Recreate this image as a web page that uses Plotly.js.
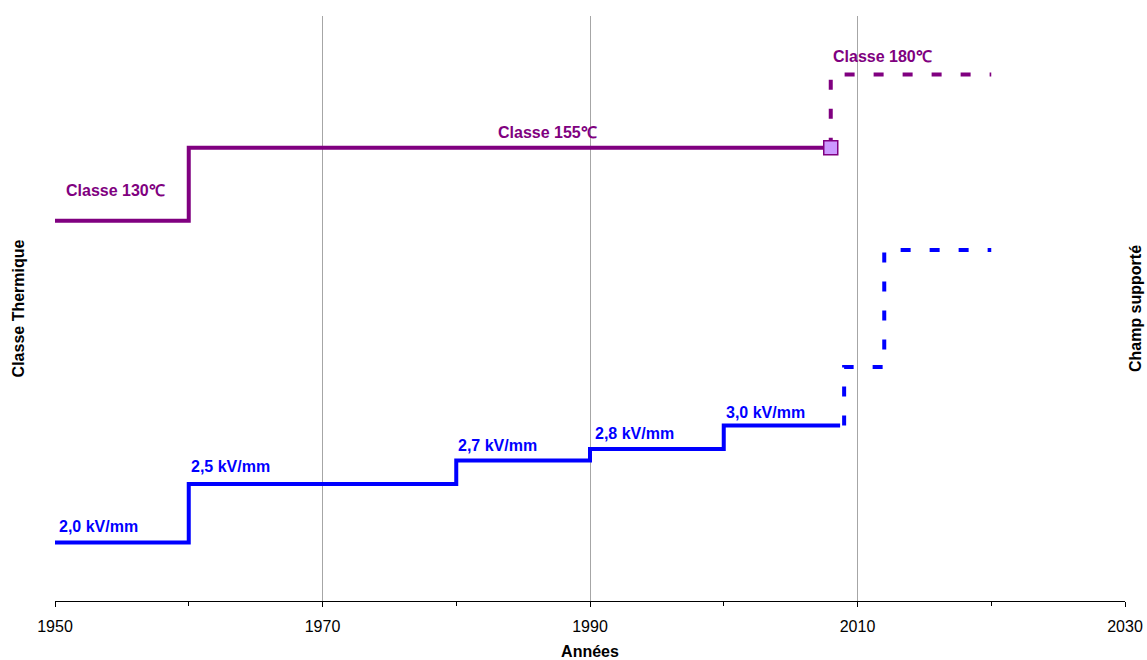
<!DOCTYPE html>
<html>
<head>
<meta charset="utf-8">
<script src="https://cdn.plot.ly/plotly-3.0.1.min.js"></script>
<style>html,body{margin:0;padding:0;background:#fff;}#chart{width:1147px;height:660px;}</style>
</head>
<body>
<div id="chart"></div>
<script>
// Thermal class (left axis)
const classYears = [1950, 1960, 2008];
const classValues = [130, 155, 155];
const classFutureYears = [2008, 2020];
const classFutureValues = [155, 180];
const classLabels = ["Classe 130℃", "Classe 155℃", "Classe 180℃"];

// Electric field withstood (right axis)
const fieldYears = [1950, 1960, 1980, 1990, 2000, 2008.7];
const fieldValues = [2.0, 2.5, 2.7, 2.8, 3.0, 3.0];
const fieldFutureYears = [2009, 2012, 2020];
const fieldFutureValues = [3.0, 3.5, 4.5];
const fieldLabels = ["2,0 kV/mm", "2,5 kV/mm", "2,7 kV/mm", "2,8 kV/mm", "3,0 kV/mm"];

const xTickYears = [1950, 1970, 1990, 2010, 2030];

const PURPLE = "#800080";
const BLUE = "#0000FF";
const FONT = "Arial, 'Liberation Sans', sans-serif";

const traces = [
  {x: classYears, y: classValues, type: "scatter", mode: "lines", line: {color: PURPLE, width: 4, shape: "hv"}, yaxis: "y", hoverinfo: "skip"},
  {x: classFutureYears, y: classFutureValues, type: "scatter", mode: "lines", line: {color: PURPLE, width: 4, shape: "vh", dash: "10px,19px"}, yaxis: "y", hoverinfo: "skip"},
  {x: [classYears[classYears.length - 1]], y: [classValues[classValues.length - 1]], type: "scatter", mode: "markers", marker: {symbol: "square", size: 14, color: "#CC99FF", line: {color: PURPLE, width: 1.5}}, yaxis: "y", hoverinfo: "skip"},
  {x: fieldYears, y: fieldValues, type: "scatter", mode: "lines", line: {color: BLUE, width: 4, shape: "hv"}, yaxis: "y2", hoverinfo: "skip"},
  {x: fieldFutureYears, y: fieldFutureValues, type: "scatter", mode: "lines", line: {color: BLUE, width: 4, shape: "vh", dash: "10px,19px"}, yaxis: "y2", hoverinfo: "skip"}
];

const annFont = (c) => ({family: FONT, size: 16, color: c});
const annotations = [];
// thermal class labels
annotations.push({x: classYears[0], y: classValues[0], xref: "x", yref: "y", text: "<b>" + classLabels[0] + "</b>", showarrow: false, xanchor: "left", yanchor: "middle", xshift: 9, yshift: 30, font: annFont(PURPLE)});
annotations.push({x: 1983, y: classValues[1], xref: "x", yref: "y", text: "<b>" + classLabels[1] + "</b>", showarrow: false, xanchor: "left", yanchor: "middle", yshift: 15, font: annFont(PURPLE)});
annotations.push({x: classFutureYears[0], y: classFutureValues[1], xref: "x", yref: "y", text: "<b>" + classLabels[2] + "</b>", showarrow: false, xanchor: "left", yanchor: "middle", yshift: 18, font: annFont(PURPLE)});
// field labels
const fieldShifts = [[2, 16], [0, 18], [0, 15], [3, 15], [0, 13]];
for (let i = 0; i < fieldLabels.length; i++) {
  annotations.push({x: fieldYears[i], y: fieldValues[i], xref: "x", yref: "y2", text: "<b>" + fieldLabels[i] + "</b>", showarrow: false, xanchor: "left", yanchor: "middle", xshift: fieldShifts[i][0], yshift: fieldShifts[i][1], font: annFont(BLUE)});
}

const layout = {
  width: 1147, height: 660,
  margin: {l: 55, r: 22, t: 16, b: 59},
  paper_bgcolor: "#fff", plot_bgcolor: "#fff",
  showlegend: false,
  font: {family: FONT, size: 16, color: "#000"},
  xaxis: {
    range: [1950, 2030], tickvals: xTickYears, ticktext: xTickYears.map(String),
    showgrid: true, gridcolor: "#a6a6a6", gridwidth: 1,
    showline: true, linecolor: "#000", linewidth: 1,
    ticks: "outside", ticklen: 5, tickcolor: "#000",
    ticklabelstandoff: 6,
    minor: {dtick: 10, tick0: 1950, ticks: "outside", ticklen: 4, tickcolor: "#000", showgrid: false},
    zeroline: false,
    tickfont: {family: FONT, size: 16, color: "#000"},
    title: {text: "<b>Années</b>", font: {family: FONT, size: 16, color: "#000"}, standoff: 19}
  },
  yaxis: {
    range: [0, 200], showticklabels: false, showgrid: false, zeroline: false, showline: false, ticks: "",
    title: {text: "<b>Classe Thermique</b>", font: {family: FONT, size: 16, color: "#000"}, standoff: 25}
  },
  yaxis2: {
    range: [1.5, 6.5], overlaying: "y", side: "right", showticklabels: false, showgrid: false, zeroline: false, showline: false, ticks: "",
    title: {text: "<b>Champ supporté</b>", font: {family: FONT, size: 16, color: "#000"}, standoff: 4}
  },
  annotations: annotations
};

Plotly.newPlot("chart", traces, layout, {staticPlot: true, displayModeBar: false});
</script>
</body>
</html>
